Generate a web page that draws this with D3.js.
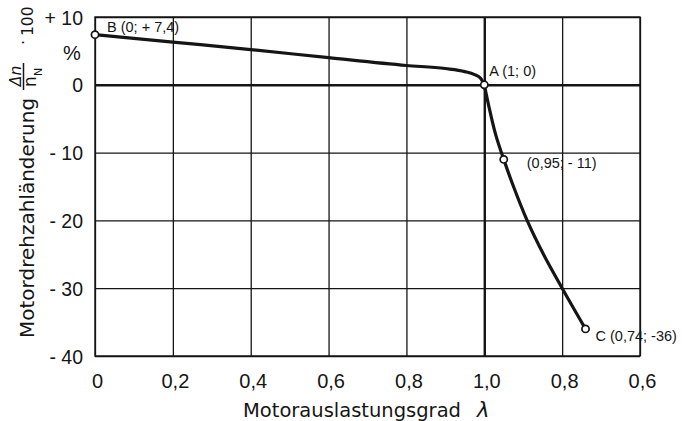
<!DOCTYPE html>
<html>
<head>
<meta charset="utf-8">
<script src="https://cdn.jsdelivr.net/npm/d3@7"></script>
<style>
  body { margin: 0; background: #fff; }
  svg { display: block; }
</style>
</head>
<body>
<script>
// Folded load axis: tick positions 0..1 read λ rising, positions past 1 read λ falling again
const loadTickPositions = [0, 0.2, 0.4, 0.6, 0.8, 1.0, 1.2, 1.4];
const loadTickLabels = ["0", "0,2", "0,4", "0,6", "0,8", "1,0", "0,8", "0,6"];
const deltaTicks = [10, 0, -10, -20, -30, -40];
const deltaTickLabels = ["+ 10", "0", "- 10", "- 20", "- 30", "- 40"];

// Branch from no load (B) up to the rated point (A)
const lambdaRising = [0, 0.2, 0.4, 0.6, 0.8, 0.9, 0.95, 0.975, 0.99, 1.0];
const deltaRising = [7.4, 6.3, 5.2, 4.0, 2.85, 2.4, 1.95, 1.5, 1.0, 0];
// Branch from A down to C
const lambdaFalling = [1.0, 0.985, 0.97, 0.95, 0.925, 0.89, 0.848, 0.8, 0.74];
const deltaFalling = [0, -4, -7.5, -11, -15, -20, -25, -30, -36];

// Marked points
const markBranch = ["rising", "rising", "falling", "falling"];
const markLambda = [0, 1, 0.95, 0.74];
const markDelta = [7.4, 0, -11, -36];
const markLabels = ["B (0; + 7,4)", "A (1; 0)", "(0,95; - 11)", "C (0,74; -36)"];

// Layout
const W = 682, H = 421;
const plot = { left: 95, right: 640, top: 17, bottom: 356 };
const ink = "#151515";
const labelOffset = [[12, -3], [5, -9], [23, 9], [10, 12]];

const x = d3.scaleLinear().domain([0, 1.4]).range([plot.left, plot.right]);
const y = d3.scaleLinear().domain([-40, 10]).range([plot.bottom, plot.top]);
// position on the folded axis for a given branch and load factor
const pos = (branch, lam) => branch === "rising" ? lam : 2 - lam;

const svg = d3.select("body").append("svg")
  .attr("width", W).attr("height", H)
  .style("font-family", "'Liberation Sans', Arial, sans-serif")
  .attr("fill", ink);

// Vertical grid + x tick labels
const xAxis = svg.append("g")
  .attr("transform", `translate(0,${plot.bottom})`)
  .call(d3.axisBottom(x)
    .tickValues(loadTickPositions)
    .tickSize(-(plot.bottom - plot.top))
    .tickFormat((d, i) => loadTickLabels[i]));
xAxis.select(".domain").remove();
xAxis.selectAll(".tick line")
  .attr("stroke", ink)
  .attr("stroke-width", d => d === 1 ? 2.4 : 1.3);
xAxis.selectAll(".tick text")
  .attr("fill", ink)
  .attr("font-size", 20)
  .attr("dy", null)
  .attr("dx", 2)
  .attr("y", 32);

// Horizontal grid + y tick labels
const yAxis = svg.append("g")
  .attr("transform", `translate(${plot.left},0)`)
  .call(d3.axisLeft(y)
    .tickValues(deltaTicks)
    .tickSize(-(plot.right - plot.left))
    .tickFormat((d, i) => deltaTickLabels[i]));
yAxis.select(".domain").remove();
yAxis.selectAll(".tick line")
  .attr("stroke", ink)
  .attr("stroke-width", d => d === 0 ? 2.4 : 1.3);
yAxis.selectAll(".tick text")
  .attr("fill", ink)
  .attr("font-size", 19.5)
  .attr("dy", "0.36em")
  .attr("x", -12);

// Frame
svg.append("rect")
  .attr("x", plot.left).attr("y", plot.top)
  .attr("width", plot.right - plot.left).attr("height", plot.bottom - plot.top)
  .attr("fill", "none").attr("stroke", ink).attr("stroke-width", 1.4);

// Unit sign between +10 and 0
svg.append("text")
  .attr("x", 72).attr("y", (y(10) + y(0)) / 2 + 9)
  .attr("text-anchor", "middle")
  .attr("font-size", 20)
  .text("%");

// Speed change curve
const rising = lambdaRising.map((lam, i) => ({ branch: "rising", lam, delta: deltaRising[i] }));
const falling = lambdaFalling.map((lam, i) => ({ branch: "falling", lam, delta: deltaFalling[i] }));

const lineRising = d3.line()
  .x(d => x(pos(d.branch, d.lam)))
  .y(d => y(d.delta))
  .curve(d3.curveMonotoneX);
const lineFalling = d3.line()
  .x(d => x(pos(d.branch, d.lam)))
  .y(d => y(d.delta))
  .curve(d3.curveCatmullRom.alpha(0.5));

[[rising, lineRising], [falling, lineFalling]].forEach(([seg, gen]) => {
  svg.append("path")
    .datum(seg)
    .attr("d", gen)
    .attr("fill", "none")
    .attr("stroke", ink)
    .attr("stroke-width", 3.2)
    .attr("stroke-linejoin", "round");
});

// Marked points with their labels
const marks = markLambda.map((lam, i) => ({
  branch: markBranch[i], lam, delta: markDelta[i], label: markLabels[i], off: labelOffset[i]
}));

svg.selectAll("circle.mark")
  .data(marks)
  .join("circle")
  .attr("class", "mark")
  .attr("cx", d => x(pos(d.branch, d.lam)))
  .attr("cy", d => y(d.delta))
  .attr("r", 3.6)
  .attr("fill", "#fff")
  .attr("stroke", ink)
  .attr("stroke-width", 1.7);

svg.selectAll("text.mark-label")
  .data(marks)
  .join("text")
  .attr("class", "mark-label")
  .attr("x", d => x(pos(d.branch, d.lam)) + d.off[0])
  .attr("y", d => y(d.delta) + d.off[1])
  .attr("font-size", 14.5)
  .text(d => d.label);

// X axis title
svg.append("text")
  .attr("x", 243).attr("y", 417)
  .attr("font-family", "'DejaVu Sans', sans-serif")
  .attr("font-size", 19.5)
  .text("Motorauslastungsgrad");
svg.append("text")
  .attr("x", 477).attr("y", 417)
  .attr("font-family", "'DejaVu Sans', sans-serif")
  .attr("font-style", "italic")
  .attr("font-size", 21)
  .text("λ");

// Y axis title, rotated: text, fraction Δn / n_N, then · 100
const yt = svg.append("g")
  .attr("transform", "translate(34,338) rotate(-90)")
  .attr("font-family", "'DejaVu Sans', sans-serif");
yt.append("text").attr("x", 0).attr("y", 0)
  .attr("font-size", 20)
  .text("Motordrehzahländerung");
yt.append("text").attr("x", 262).attr("y", -13)
  .attr("text-anchor", "middle")
  .attr("font-size", 15.5)
  .attr("font-style", "italic")
  .text("Δn");
yt.append("line")
  .attr("x1", 248).attr("x2", 275)
  .attr("y1", -10.5).attr("y2", -10.5)
  .attr("stroke", ink).attr("stroke-width", 1.5);
yt.append("text").attr("x", 251).attr("y", 2)
  .attr("font-size", 17)
  .text("n");
yt.append("text").attr("x", 262).attr("y", 8)
  .attr("font-size", 11)
  .text("N");
yt.append("text").attr("x", 293).attr("y", -5)
  .attr("font-size", 16)
  .text("·");
yt.append("text").attr("x", 302).attr("y", -1)
  .attr("font-size", 15.5)
  .text("100");
</script>
</body>
</html>
